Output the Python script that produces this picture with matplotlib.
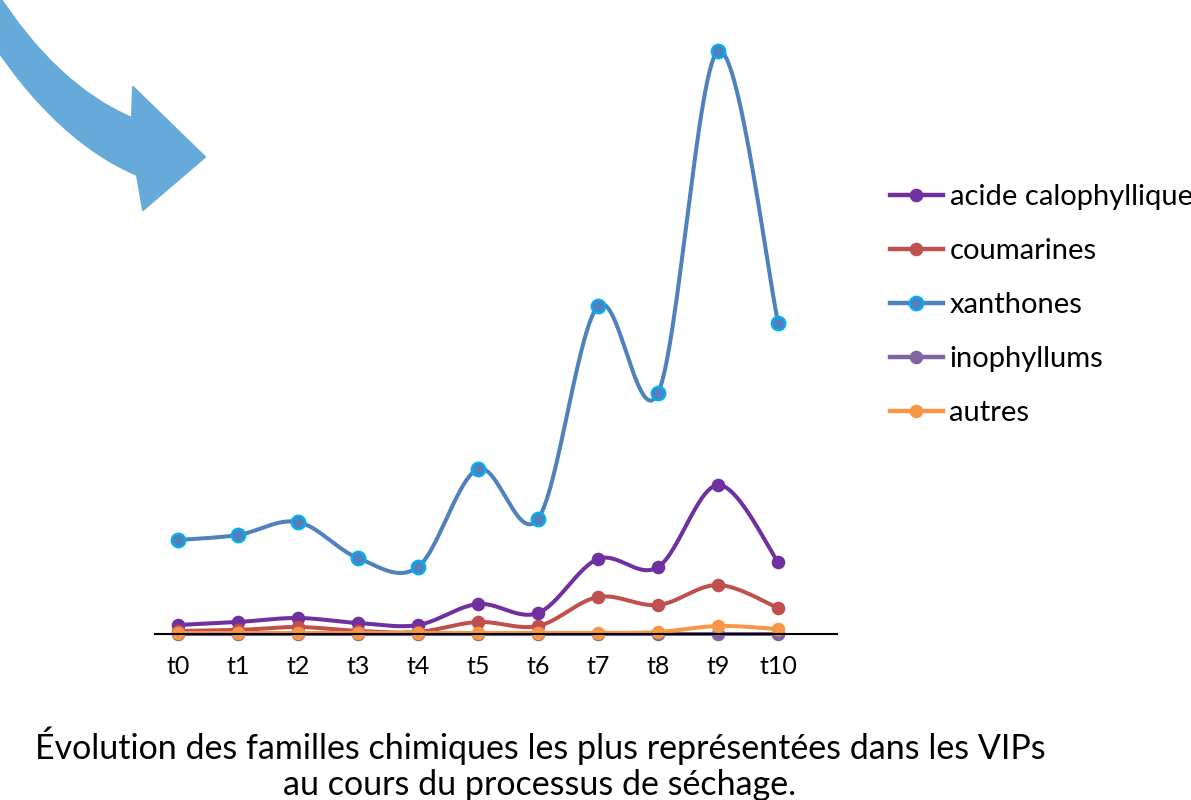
import numpy as np
import matplotlib
matplotlib.use("Agg")
import matplotlib.pyplot as plt
from matplotlib.patches import PathPatch
from matplotlib.path import Path

plt.rcParams["font.family"] = ["Lato", "DejaVu Sans"]

# values (arbitrary units, baseline = 0)
times = ["t0", "t1", "t2", "t3", "t4", "t5", "t6", "t7", "t8", "t9", "t10"]
acide = [9, 12, 16, 11, 9, 30, 21, 75, 67, 149, 72]
coumarines = [3, 4, 7, 3, 2, 12, 8, 37, 29, 49, 26]
xanthones = [94, 99, 112, 76, 67, 165, 115, 328, 241, 583, 311]
inophyllums = [0, 0, 0, 0, 0, 0, 0, 0, 0, 0, 0]
autres = [1, 1, 1, 1, 1, 1, 1, 1, 2, 8, 5]

series = [
    ("acide calophyllique", acide, "#7030A0", "#7030A0"),
    ("coumarines", coumarines, "#C0504D", "#C0504D"),
    ("xanthones", xanthones, "#4F81BD", "#00B0F0"),
    ("inophyllums", inophyllums, "#8064A2", "#8064A2"),
    ("autres", autres, "#F79646", "#F79646"),
]


def smooth(x, y, n=30):
    # Excel-like smoothed line: cubic bezier with catmull-rom control points
    x = np.asarray(x, float)
    y = np.asarray(y, float)
    px = np.concatenate([[x[0]], x, [x[-1]]])
    py = np.concatenate([[y[0]], y, [y[-1]]])
    xs, ys = [], []
    t = np.linspace(0, 1, n)
    for i in range(1, len(px) - 2):
        p0 = np.array([px[i], py[i]])
        p3 = np.array([px[i + 1], py[i + 1]])
        c1 = p0 + (np.array([px[i + 1], py[i + 1]]) - np.array([px[i - 1], py[i - 1]])) / 6
        c2 = p3 - (np.array([px[i + 2], py[i + 2]]) - np.array([px[i], py[i]])) / 6
        b = ((1 - t) ** 3)[:, None] * p0 + (3 * (1 - t) ** 2 * t)[:, None] * c1 \
            + (3 * (1 - t) * t ** 2)[:, None] * c2 + (t ** 3)[:, None] * p3
        xs.append(b[:, 0])
        ys.append(b[:, 1])
    return np.concatenate(xs), np.concatenate(ys)


W, H = 1191, 800
fig = plt.figure(figsize=(W / 100, H / 100), dpi=100)
left, right, top, base = 155, 837, 40, 634
ax = fig.add_axes([left / W, 1 - base / H, (right - left) / W, (base - top) / H])

x = np.arange(len(times))
for name, vals, col, edge in series:
    sx, sy = smooth(x, vals)
    ax.plot(sx, sy, color=col, lw=2.9, solid_capstyle="round", clip_on=False)
    ax.plot(x, vals, ls="none", marker="o", ms=9.8, mfc=col, mec=edge,
            mew=1.6 if edge != col else 0, clip_on=False)

ax.set_xlim(-0.38, 10.98)
ax.set_ylim(0, 594)
for s in ["top", "right", "left"]:
    ax.spines[s].set_visible(False)
ax.spines["bottom"].set_linewidth(1.5)
ax.set_yticks([])
ax.set_xticks(x)
ax.set_xticklabels(times, fontsize=18)
ax.tick_params(axis="x", length=0, pad=15)
ax.patch.set_visible(False)

# legend
handles = []
for name, vals, col, edge in series:
    h, = ax.plot([], [], color=col, lw=3.2, marker="o", ms=9.8, mfc=col, mec=edge,
                 mew=1.6 if edge != col else 0)
    handles.append(h)
fig.legend(handles, [s[0] for s in series], loc="upper left",
           bbox_to_anchor=(890 / W, 1 - 184 / H), frameon=False, fontsize=21,
           handlelength=1.8, handletextpad=0.24, labelspacing=0.96,
           borderpad=0, borderaxespad=0)


# decorative curved arrow top-left (figure pixel coords from top-left)
def fpx(px_, py_):
    return (px_ / W, 1 - py_ / H)


arrow_pts = [(-5, -10), (56, 86), (132, 118), (133, 87), (205, 157),
             (143, 210), (137, 175), (48, 137), (-25, 15), (-5, -10)]
arrow_codes = [Path.MOVETO, Path.CURVE3, Path.CURVE3, Path.LINETO, Path.LINETO,
               Path.LINETO, Path.LINETO, Path.CURVE3, Path.CURVE3, Path.CLOSEPOLY]
arrow = PathPatch(Path([fpx(*p) for p in arrow_pts], arrow_codes),
                  transform=fig.transFigure, facecolor="#66AAD9",
                  edgecolor="#66AAD9", lw=1.5, joinstyle="round")
fig.add_artist(arrow)

fig.text(540 / W, 1 - 746 / H, "Évolution des familles chimiques les plus représentées dans les VIPs",
         ha="center", va="center", fontsize=24.5)
fig.text(540 / W, 1 - 785 / H, "au cours du processus de séchage.",
         ha="center", va="center", fontsize=24.5)

fig.savefig("out.png", dpi=100)
